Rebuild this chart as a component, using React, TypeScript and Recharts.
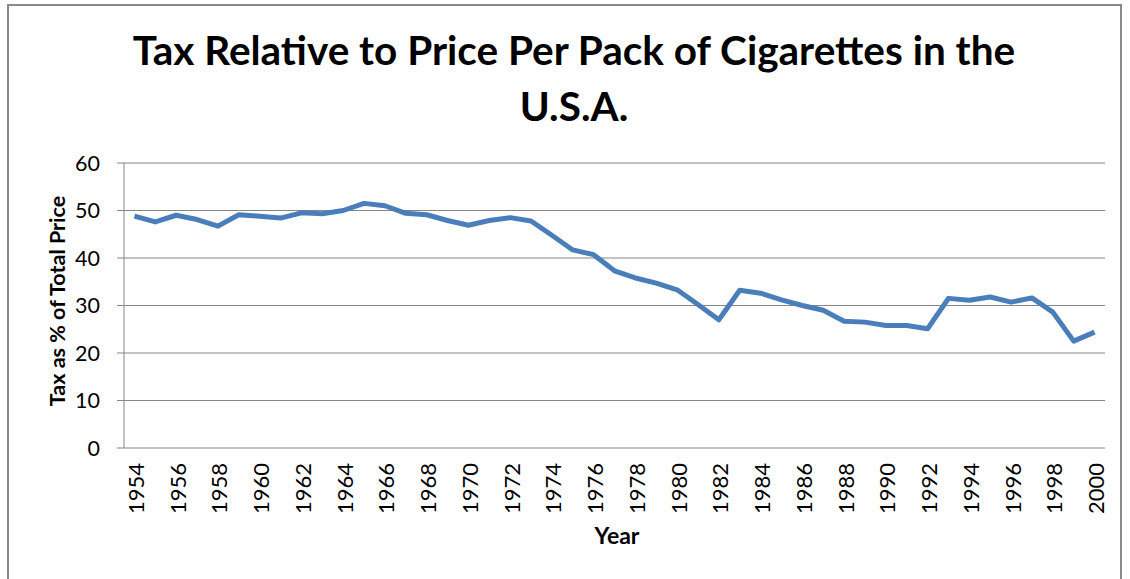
import React from 'react';
import { LineChart, Line, XAxis, YAxis, CartesianGrid } from 'recharts';

const years = [
  1954, 1955, 1956, 1957, 1958, 1959, 1960, 1961, 1962, 1963,
  1964, 1965, 1966, 1967, 1968, 1969, 1970, 1971, 1972, 1973,
  1974, 1975, 1976, 1977, 1978, 1979, 1980, 1981, 1982, 1983,
  1984, 1985, 1986, 1987, 1988, 1989, 1990, 1991, 1992, 1993,
  1994, 1995, 1996, 1997, 1998, 1999, 2000,
];

const taxShare = [
  48.8, 47.6, 49.0, 48.1, 46.7, 49.1, 48.8, 48.4, 49.5, 49.3,
  50.0, 51.5, 51.0, 49.4, 49.1, 47.9, 46.9, 47.9, 48.5, 47.8,
  44.8, 41.7, 40.7, 37.3, 35.8, 34.7, 33.3, 30.2, 27.0, 33.2,
  32.6, 31.2, 30.0, 29.0, 26.7, 26.5, 25.8, 25.8, 25.1, 31.5,
  31.1, 31.8, 30.7, 31.6, 28.6, 22.5, 24.4,
];

const yTicks = [0, 10, 20, 30, 40, 50, 60];

const yearLabels = [
  1954, 1956, 1958, 1960, 1962, 1964, 1966, 1968, 1970, 1972, 1974, 1976,
  1978, 1980, 1982, 1984, 1986, 1988, 1990, 1992, 1994, 1996, 1998, 2000,
];

const titleLines = ['Tax Relative to Price Per Pack of Cigarettes in the', 'U.S.A.'];
const yTitle = 'Tax as % of Total Price';
const xTitle = 'Year';

const data = years.map((year, i) => ({ year, value: taxShare[i] }));
const boundaries = years.map((y) => y - 0.5).concat([years[years.length - 1] + 0.5]);
const domain: [number, number] = [boundaries[0], boundaries[boundaries.length - 1]];

const FONT = 'Lato, "Open Sans", sans-serif';
const GRID = '#868686';

const YearTick = (props: any) => {
  const { x, y, payload } = props;
  const ty = y + 15;
  return (
    <text
      x={x + 1}
      y={ty}
      transform={`rotate(-90, ${x + 1}, ${ty})`}
      textAnchor="end"
      dominantBaseline="central"
      fontSize={22}
      fontFamily={FONT}
      fill="#000"
    >
      {payload.value}
    </text>
  );
};

export default function App() {
  return (
    <div
      style={{
        position: 'fixed',
        left: 0,
        top: 0,
        width: 1130,
        height: 579,
        overflow: 'hidden',
        background: '#fff',
      }}
    >
      <svg
        width={1130}
        height={579}
        style={{ position: 'absolute', left: 0, top: 0 }}
      >
        <rect x={8} y={5} width={1113} height={620} fill="#fff" stroke="#8a8a8a" strokeWidth={2} />
        <text x={574} y={65} textAnchor="middle" fontFamily={FONT} fontWeight="bold" fontSize={40.5} fill="#000">
          {titleLines[0]}
        </text>
        <text x={574} y={121} textAnchor="middle" fontFamily={FONT} fontWeight="bold" fontSize={40.5} fill="#000">
          {titleLines[1]}
        </text>
      </svg>
      <div style={{ position: 'absolute', left: 0, top: 0 }}>
        <LineChart
          width={1130}
          height={579}
          data={data}
          margin={{ top: 163, right: 25, bottom: 0, left: 0 }}
        >
          <CartesianGrid horizontal vertical={false} stroke={GRID} strokeWidth={1} />
          <XAxis
            xAxisId="marks"
            dataKey="year"
            type="number"
            domain={domain}
            ticks={boundaries}
            allowDataOverflow
            height={0}
            tick={false}
            tickLine={{ stroke: GRID }}
            tickSize={6}
            axisLine={{ stroke: GRID, strokeWidth: 1 }}
          />
          <XAxis
            xAxisId="main"
            dataKey="year"
            type="number"
            domain={domain}
            ticks={yearLabels}
            interval={0}
            allowDataOverflow
            height={131}
            tickLine={false}
            axisLine={false}
            tickSize={0}
            tickMargin={0}
            tick={<YearTick />}
          />
          <YAxis
            type="number"
            domain={[0, 60]}
            ticks={yTicks}
            interval={0}
            width={124}
            axisLine={{ stroke: GRID, strokeWidth: 1 }}
            tickLine={{ stroke: GRID }}
            tickSize={7}
            tickMargin={17}
            tick={{ fontSize: 21.5, fill: '#000', fontFamily: FONT }}
          />
          <Line
            xAxisId="main"
            dataKey="value"
            type="linear"
            stroke="#4A7EBB"
            strokeWidth={5}
            strokeLinejoin="round"
            dot={false}
            isAnimationActive={false}
          />
        </LineChart>
      </div>
      <svg
        width={1130}
        height={579}
        style={{ position: 'absolute', left: 0, top: 0, pointerEvents: 'none' }}
      >
        <text
          x={57}
          y={301}
          transform="rotate(-90, 57, 301)"
          textAnchor="middle"
          dominantBaseline="central"
          fontFamily={FONT}
          fontWeight="bold"
          fontSize={21.5}
          fill="#000"
        >
          {yTitle}
        </text>
        <text x={617} y={544} textAnchor="middle" fontFamily={FONT} fontWeight="bold" fontSize={23} fill="#000">
          {xTitle}
        </text>
      </svg>
    </div>
  );
}
